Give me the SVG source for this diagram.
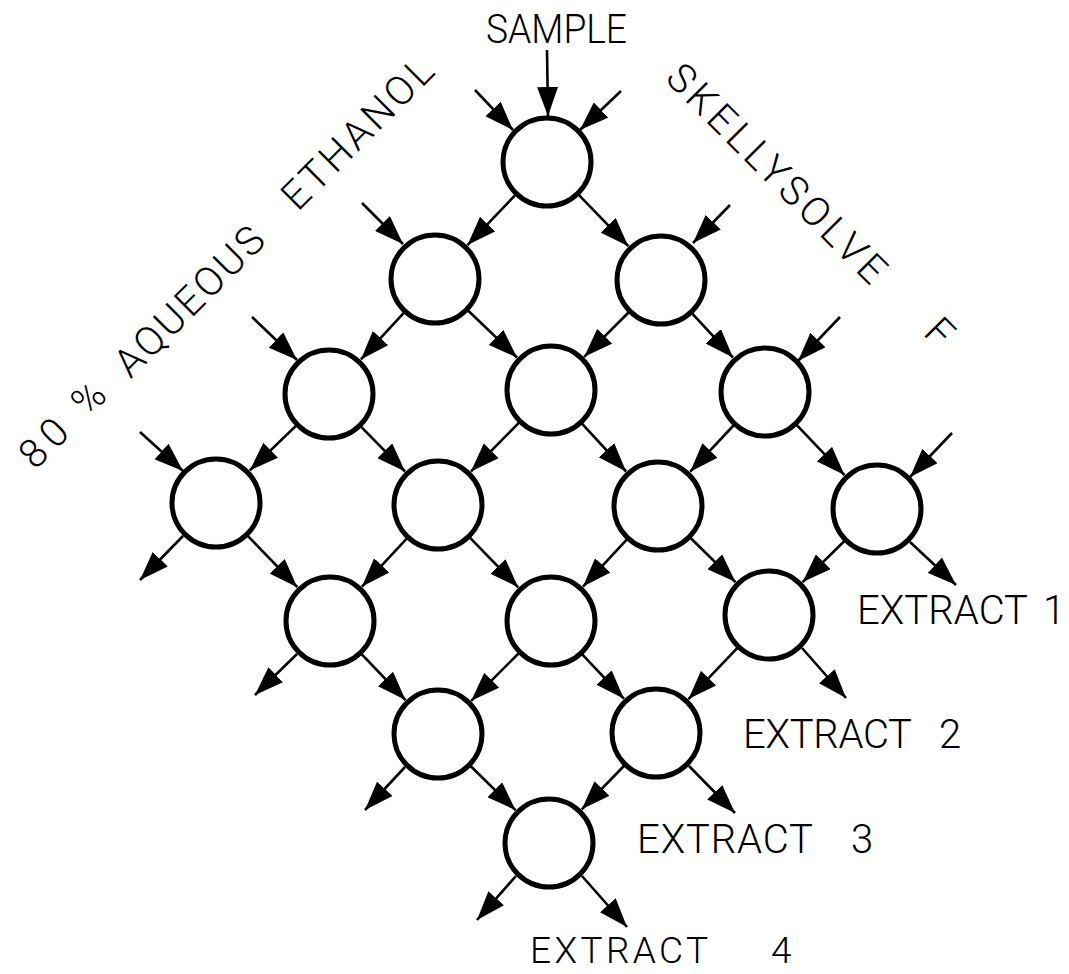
<svg xmlns="http://www.w3.org/2000/svg" width="1069" height="974" viewBox="0 0 1069 974">
<style>
.node{fill:#fff;stroke:#000;stroke-width:5}
.c{stroke:#000;stroke-width:2.6;fill:none;marker-end:url(#ah)}
.t{font-family:Roboto,"Liberation Sans",Arial,sans-serif;font-weight:300;fill:#000;font-size:40px}
.s{font-size:37px}
</style>
<defs>
<marker id="ah" markerUnits="userSpaceOnUse" markerWidth="29" markerHeight="21" refX="29" refY="10.5" orient="auto">
<path d="M0,0 L29,10.5 L0,21 Z" fill="#000"/>
</marker>
</defs>
<rect width="1069" height="974" fill="#fff"/>
<g id="connectors">
<line class="c" x1="547" y1="50" x2="548" y2="116"/>
<line class="c" x1="475" y1="90" x2="513" y2="130"/>
<line class="c" x1="621" y1="91" x2="580" y2="130"/>
<line class="c" x1="362" y1="203" x2="403" y2="244"/>
<line class="c" x1="730" y1="205" x2="693" y2="243"/>
<line class="c" x1="252" y1="317" x2="297" y2="360"/>
<line class="c" x1="840" y1="317" x2="798" y2="361"/>
<line class="c" x1="140" y1="432" x2="183" y2="471"/>
<line class="c" x1="952" y1="433" x2="910" y2="477"/>
<line class="c" x1="515.2" y1="195.2" x2="467.5" y2="245.1"/>
<line class="c" x1="579" y1="195.1" x2="628.3" y2="246.2"/>
<line class="c" x1="403.8" y1="312.8" x2="360.9" y2="359.4"/>
<line class="c" x1="468.3" y1="310.8" x2="517" y2="357.5"/>
<line class="c" x1="628.5" y1="312.5" x2="584.2" y2="356.8"/>
<line class="c" x1="692.3" y1="313.7" x2="733" y2="357.5"/>
<line class="c" x1="295.9" y1="425.9" x2="249.8" y2="470.4"/>
<line class="c" x1="361.2" y1="426.8" x2="405.1" y2="471.5"/>
<line class="c" x1="518.8" y1="422.8" x2="470.9" y2="471.5"/>
<line class="c" x1="582.2" y1="423.8" x2="626.1" y2="471.5"/>
<line class="c" x1="733.5" y1="425.5" x2="690.2" y2="471.7"/>
<line class="c" x1="796.8" y1="425.2" x2="844.5" y2="475.1"/>
<line class="c" x1="248" y1="536.1" x2="297.3" y2="587.2"/>
<line class="c" x1="406.7" y1="538.7" x2="362" y2="586.6"/>
<line class="c" x1="470.1" y1="537.9" x2="518.2" y2="587.3"/>
<line class="c" x1="626.7" y1="539.7" x2="583" y2="586.6"/>
<line class="c" x1="690.8" y1="538.2" x2="735.5" y2="582.1"/>
<line class="c" x1="844.2" y1="541.2" x2="802.6" y2="582.1"/>
<line class="c" x1="361.8" y1="654.3" x2="405.5" y2="700"/>
<line class="c" x1="518.5" y1="653.5" x2="471.2" y2="700.8"/>
<line class="c" x1="582.5" y1="654.6" x2="623.9" y2="698.7"/>
<line class="c" x1="737.2" y1="648.2" x2="688.5" y2="699.1"/>
<line class="c" x1="470.8" y1="766.2" x2="515.5" y2="810.1"/>
<line class="c" x1="623.9" y1="766" x2="581.8" y2="809.3"/>
<line class="c" x1="183" y1="536" x2="140" y2="580"/>
<line class="c" x1="297" y1="654" x2="255" y2="695"/>
<line class="c" x1="405" y1="767" x2="365" y2="810"/>
<line class="c" x1="516" y1="876" x2="477" y2="920"/>
<line class="c" x1="910" y1="542" x2="956" y2="585"/>
<line class="c" x1="802" y1="648" x2="846" y2="698"/>
<line class="c" x1="689" y1="766" x2="735" y2="813"/>
<line class="c" x1="582" y1="876" x2="627" y2="927"/>
</g>
<g id="n1"><circle class="node" cx="547" cy="162" r="44"/></g>
<g id="n2a"><circle class="node" cx="435" cy="279" r="44"/></g>
<g id="n2b"><circle class="node" cx="661" cy="280" r="44"/></g>
<g id="n3a"><circle class="node" cx="329" cy="394" r="44"/></g>
<g id="n3b"><circle class="node" cx="551" cy="390" r="44"/></g>
<g id="n3c"><circle class="node" cx="765" cy="392" r="44"/></g>
<g id="n4a"><circle class="node" cx="216" cy="503" r="44"/></g>
<g id="n4b"><circle class="node" cx="438" cy="505" r="44"/></g>
<g id="n4c"><circle class="node" cx="658" cy="506" r="44"/></g>
<g id="n4d"><circle class="node" cx="877" cy="509" r="44"/></g>
<g id="n5a"><circle class="node" cx="330" cy="621" r="44"/></g>
<g id="n5b"><circle class="node" cx="551" cy="621" r="44"/></g>
<g id="n5c"><circle class="node" cx="769" cy="615" r="44"/></g>
<g id="n6a"><circle class="node" cx="438" cy="734" r="44"/></g>
<g id="n6b"><circle class="node" cx="656" cy="733" r="44"/></g>
<g id="n7"><circle class="node" cx="549" cy="843" r="44"/></g>
<g id="labels">
<text class="t" x="486" y="43" textLength="141" lengthAdjust="spacingAndGlyphs">SAMPLE</text>
<text class="t" text-anchor="middle" transform="translate(72,434) rotate(-45)" textLength="104" lengthAdjust="spacing">80 %</text>
<text class="t" text-anchor="middle" transform="translate(199,311) rotate(-45)" textLength="194" lengthAdjust="spacing">AQUEOUS</text>
<text class="t" text-anchor="middle" transform="translate(367,143) rotate(-45)" textLength="196" lengthAdjust="spacing">ETHANOL</text>
<text class="t" text-anchor="middle" transform="translate(767,183) rotate(45)" textLength="292" lengthAdjust="spacing">SKELLYSOLVE</text>
<text class="t" text-anchor="middle" transform="translate(930,342) rotate(45)">F</text>
<text class="t" x="857" y="624" textLength="171" lengthAdjust="spacing">EXTRACT</text>
<text class="t" x="1043" y="624">1</text>
<text class="t" x="743" y="748" textLength="169" lengthAdjust="spacing">EXTRACT</text>
<text class="t" x="939" y="748">2</text>
<text class="t" x="637" y="853" textLength="176" lengthAdjust="spacing">EXTRACT</text>
<text class="t" x="851" y="853">3</text>
<text class="t s" x="530" y="963" textLength="178" lengthAdjust="spacing">EXTRACT</text>
<text class="t s" x="771" y="963">4</text>
</g>
</svg>
